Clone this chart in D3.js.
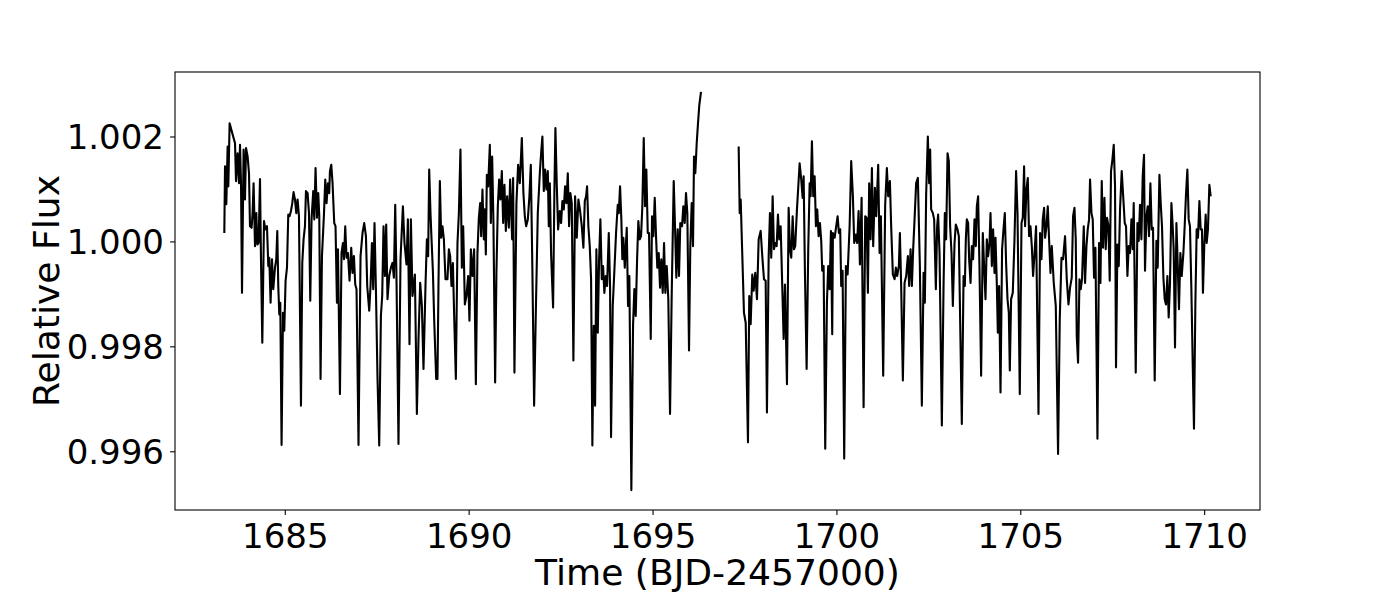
<!DOCTYPE html>
<html>
<head>
<meta charset="utf-8">
<script src="https://cdn.jsdelivr.net/npm/d3@7"></script>
<style>
  html, body { margin: 0; padding: 0; background: #fff; }
  svg { display: block; }
  text { font-family: "DejaVu Sans", sans-serif; fill: #000; }
</style>
</head>
<body>
<svg id="chart" width="1400" height="600"></svg>
<script>
// ---- Data: TESS light curve, two orbits ----
const time1 = [
1683.356,1683.375,1683.410,1683.446,1683.465,1683.500,1683.647,1683.674,1683.717,1683.755,
1683.783,1683.810,1683.837,1683.880,1683.918,1683.946,1683.989,1684.027,1684.054,1684.098,
1684.125,1684.152,1684.171,1684.190,1684.226,1684.253,1684.288,1684.326,1684.353,1684.389,
1684.435,1684.470,1684.516,1684.552,1684.579,1684.614,1684.652,1684.687,1684.734,1684.769,
1684.796,1684.823,1684.851,1684.878,1684.913,1684.951,1684.986,1685.022,1685.060,1685.095,
1685.130,1685.168,1685.204,1685.239,1685.277,1685.313,1685.348,1685.386,1685.440,1685.476,
1685.511,1685.549,1685.576,1685.620,1685.658,1685.693,1685.728,1685.774,1685.802,1685.837,
1685.875,1685.910,1685.938,1685.973,1686.011,1686.065,1686.101,1686.136,1686.174,1686.209,
1686.228,1686.264,1686.299,1686.345,1686.380,1686.418,1686.446,1686.500,1686.543,1686.582,
1686.609,1686.644,1686.679,1686.717,1686.761,1686.807,1686.842,1686.880,1686.916,1686.951,
1687.005,1687.060,1687.114,1687.160,1687.207,1687.242,1687.296,1687.332,1687.370,1687.405,
1687.440,1687.478,1687.522,1687.568,1687.614,1687.649,1687.685,1687.723,1687.758,1687.793,
1687.840,1687.886,1687.929,1687.967,1688.003,1688.038,1688.092,1688.147,1688.212,1688.255,
1688.310,1688.348,1688.391,1688.429,1688.473,1688.538,1688.592,1688.636,1688.682,1688.728,
1688.772,1688.826,1688.864,1688.899,1688.927,1688.962,1688.989,1689.027,1689.062,1689.117,
1689.152,1689.179,1689.217,1689.253,1689.288,1689.326,1689.370,1689.424,1689.462,1689.497,
1689.533,1689.571,1689.606,1689.652,1689.696,1689.734,1689.777,1689.815,1689.851,1689.897,
1689.940,1689.986,1690.022,1690.060,1690.103,1690.149,1690.196,1690.239,1690.277,1690.313,
1690.340,1690.375,1690.413,1690.440,1690.467,1690.495,1690.530,1690.576,1690.603,1690.639,
1690.674,1690.720,1690.755,1690.793,1690.829,1690.864,1690.902,1690.938,1690.973,1691.011,
1691.046,1691.092,1691.128,1691.182,1691.209,1691.245,1691.299,1691.345,1691.391,1691.446,
1691.489,1691.527,1691.563,1691.609,1691.652,1691.690,1691.734,1691.780,1691.826,1691.880,
1691.935,1691.970,1692.005,1692.043,1692.079,1692.114,1692.152,1692.179,1692.207,1692.242,
1692.296,1692.332,1692.359,1692.397,1692.432,1692.478,1692.514,1692.549,1692.587,1692.622,
1692.658,1692.696,1692.731,1692.766,1692.804,1692.848,1692.894,1692.940,1692.984,1693.030,
1693.076,1693.120,1693.158,1693.193,1693.220,1693.255,1693.293,1693.329,1693.364,1693.402,
1693.438,1693.473,1693.511,1693.546,1693.582,1693.620,1693.655,1693.690,1693.728,1693.764,
1693.810,1693.845,1693.872,1693.918,1693.962,1694.008,1694.054,1694.082,1694.117,1694.152,
1694.179,1694.207,1694.245,1694.299,1694.334,1694.370,1694.424,1694.470,1694.505,1694.543,
1694.579,1694.614,1694.652,1694.688,1694.723,1694.761,1694.796,1694.832,1694.870,1694.905,
1694.951,1694.986,1695.022,1695.060,1695.095,1695.130,1695.168,1695.204,1695.239,1695.277,
1695.313,1695.348,1695.386,1695.429,1695.476,1695.522,1695.576,1695.611,1695.647,1695.685,
1695.720,1695.755,1695.802,1695.837,1695.875,1695.910,1695.946,1695.992,1696.027,1696.065,
1696.101,1696.128,1696.163,1696.201,1696.236,1696.272,1696.318
];
const flux1 = [
1.00016,1.00143,1.00071,1.00181,1.00105,1.00225,1.00187,1.00115,1.00168,1.00111,
1.00184,1.00111,0.99902,1.00175,1.00080,1.00178,1.00162,1.00130,1.00029,1.00026,
1.00054,1.00111,1.00054,0.99991,1.00054,0.99994,0.99997,1.00119,0.99966,0.99807,
1.00039,1.00023,1.00029,0.99953,0.99969,0.99883,0.99966,0.99909,0.99950,0.99966,
1.00020,0.99915,0.99861,0.99883,0.99612,0.99864,0.99830,0.99925,0.99950,1.00051,
1.00048,1.00058,1.00073,1.00094,1.00080,1.00054,1.00080,1.00048,0.99687,0.99959,
1.00004,1.00029,1.00096,1.00092,1.00054,0.99887,1.00042,1.00096,1.00042,1.00140,
1.00045,1.00092,1.00048,0.99738,0.99972,1.00051,1.00118,1.00073,1.00111,1.00092,
1.00134,1.00146,1.00111,1.00035,1.00029,0.99883,0.99985,0.99709,0.99978,0.99997,
0.99966,1.00029,0.99969,0.99978,0.99925,0.99988,0.99940,0.99972,0.99918,0.99909,
0.99612,0.99972,1.00016,1.00035,1.00010,0.99915,0.99868,0.99915,0.99997,0.99909,
1.00035,0.99909,0.99738,0.99611,0.99858,0.99896,1.00029,0.99934,1.00032,0.99890,
0.99934,0.99950,0.99959,0.99931,1.00070,0.99928,0.99614,0.99966,1.00067,0.99997,
0.99956,1.00042,0.99804,1.00042,0.99896,0.99937,0.99671,0.99814,0.99921,0.99877,
0.99757,0.99915,1.00004,0.99972,1.00137,1.00054,1.00007,0.99944,0.99852,0.99738,
0.99738,0.99915,1.00115,1.00007,1.00029,1.00004,0.99928,0.99928,0.99985,0.99972,
0.99915,0.99959,0.99858,0.99738,0.99997,1.00054,1.00175,0.99950,1.00029,0.99880,
0.99896,0.99934,0.99849,0.99985,0.99934,0.99985,0.99728,0.99978,1.00045,1.00073,
1.00010,1.00099,1.00004,1.00061,0.99975,1.00127,1.00105,1.00184,1.00035,1.00162,
1.00035,0.99731,0.99940,1.00067,1.00118,1.00080,1.00134,1.00035,1.00108,1.00020,
1.00086,1.00026,1.00118,1.00004,1.00121,0.99750,1.00073,1.00146,1.00111,1.00197,
1.00092,1.00048,1.00029,1.00042,1.00086,1.00146,0.99940,0.99687,0.99864,1.00054,
1.00130,1.00168,1.00200,1.00096,1.00137,1.00099,1.00134,1.00029,1.00111,0.99975,
0.99874,1.00099,1.00216,1.00105,1.00023,1.00058,1.00035,1.00077,1.00061,1.00105,
1.00073,1.00130,1.00029,1.00092,1.00073,0.99773,1.00086,1.00007,1.00080,1.00058,
1.00029,0.99988,1.00077,1.00086,1.00105,1.00029,0.99991,0.99928,0.99611,0.99839,
0.99687,0.99985,0.99826,0.99963,1.00042,0.99928,0.99953,0.99902,0.99934,0.99915,
1.00016,0.99915,0.99627,0.99877,0.99944,1.00016,1.00070,1.00054,1.00105,1.00042,
0.99966,1.00007,0.99950,1.00026,0.99877,0.99934,0.99526,0.99839,0.99909,0.99858,
0.99963,1.00039,1.00004,1.00010,1.00067,1.00197,1.00067,1.00137,1.00016,1.00016,
0.99814,1.00048,1.00010,1.00083,1.00010,0.99950,0.99978,0.99912,0.99966,0.99902,
0.99997,0.99902,0.99953,0.99890,0.99671,0.99902,1.00115,1.00029,0.99931,1.00023,
0.99934,1.00035,1.00029,1.00067,1.00035,1.00092,1.00054,0.99792,0.99991,1.00073,
0.99991,1.00162,1.00130,1.00187,1.00225,1.00260,1.00285
];
const time2 = [
1697.342,1697.370,1697.397,1697.486,1697.533,1697.595,1697.630,1697.668,1697.712,1697.750,
1697.793,1697.840,1697.886,1697.940,1697.984,1698.030,1698.076,1698.111,1698.158,1698.193,
1698.228,1698.266,1698.302,1698.337,1698.375,1698.410,1698.446,1698.484,1698.527,1698.565,
1698.601,1698.655,1698.701,1698.736,1698.772,1698.810,1698.845,1698.880,1698.927,1699.000,
1699.043,1699.082,1699.109,1699.144,1699.190,1699.234,1699.272,1699.299,1699.334,1699.370,
1699.408,1699.443,1699.478,1699.516,1699.552,1699.587,1699.614,1699.652,1699.696,1699.742,
1699.777,1699.815,1699.851,1699.886,1699.905,1699.951,1699.995,1700.033,1700.068,1700.103,
1700.130,1700.168,1700.212,1700.258,1700.304,1700.359,1700.402,1700.448,1700.484,1700.530,
1700.565,1700.603,1700.639,1700.685,1700.739,1700.783,1700.821,1700.856,1700.891,1700.929,
1700.965,1701.000,1701.046,1701.082,1701.136,1701.174,1701.209,1701.272,1701.326,1701.372,
1701.408,1701.454,1701.489,1701.535,1701.582,1701.617,1701.652,1701.698,1701.726,1701.761,
1701.807,1701.853,1701.897,1701.943,1701.978,1702.016,1702.052,1702.087,1702.125,1702.168,
1702.215,1702.269,1702.323,1702.370,1702.405,1702.440,1702.486,1702.522,1702.549,1702.576,
1702.622,1702.658,1702.704,1702.739,1702.766,1702.804,1702.867,1702.913,1702.948,1702.984,
1703.022,1703.057,1703.092,1703.130,1703.166,1703.212,1703.247,1703.293,1703.329,1703.364,
1703.410,1703.457,1703.492,1703.519,1703.546,1703.582,1703.609,1703.647,1703.682,1703.717,
1703.755,1703.791,1703.818,1703.853,1703.891,1703.935,1703.981,1704.016,1704.054,1704.090,
1704.125,1704.163,1704.190,1704.226,1704.261,1704.299,1704.326,1704.361,1704.389,1704.424,
1704.462,1704.505,1704.543,1704.579,1704.614,1704.652,1704.688,1704.715,1704.750,1704.796,
1704.842,1704.886,1704.924,1704.986,1705.033,1705.068,1705.103,1705.130,1705.168,1705.204,
1705.239,1705.277,1705.313,1705.348,1705.386,1705.429,1705.495,1705.538,1705.576,1705.611,
1705.647,1705.674,1705.712,1705.747,1705.783,1705.821,1705.856,1705.910,1705.965,1706.027,
1706.073,1706.120,1706.163,1706.217,1706.264,1706.310,1706.353,1706.399,1706.435,1706.473,
1706.508,1706.535,1706.571,1706.609,1706.644,1706.679,1706.726,1706.761,1706.799,1706.834,
1706.870,1706.897,1706.935,1706.970,1707.005,1707.043,1707.098,1707.141,1707.179,1707.215,
1707.250,1707.288,1707.323,1707.359,1707.397,1707.432,1707.467,1707.505,1707.541,1707.576,
1707.603,1707.641,1707.677,1707.712,1707.758,1707.840,1707.875,1707.913,1707.948,1707.984,
1708.022,1708.057,1708.084,1708.139,1708.185,1708.220,1708.255,1708.293,1708.329,1708.364,
1708.391,1708.429,1708.465,1708.500,1708.538,1708.573,1708.609,1708.655,1708.701,1708.736,
1708.783,1708.818,1708.853,1708.891,1708.927,1708.962,1709.000,1709.035,1709.071,1709.109,
1709.144,1709.171,1709.207,1709.245,1709.280,1709.315,1709.353,1709.389,1709.435,1709.470,
1709.505,1709.543,1709.579,1709.614,1709.652,1709.688,1709.723,1709.761,1709.796,1709.832,
1709.870,1709.905,1709.940,1709.967,1710.005,1710.041,1710.068,1710.103,1710.141,1710.177
];
const flux2 = [
1.00181,1.00054,1.00080,0.99864,0.99845,0.99617,0.99896,0.99842,0.99937,0.99906,
0.99940,0.99890,1.00004,1.00020,0.99972,0.99928,0.99925,0.99674,0.99972,1.00054,
0.99969,1.00086,0.99985,0.99997,0.99991,1.00051,1.00004,1.00029,0.99915,0.99814,
0.99918,0.99728,1.00064,0.99985,0.99969,1.00048,0.99985,0.99991,1.00061,1.00149,
1.00118,1.00083,1.00124,0.99940,0.99757,0.99985,1.00111,1.00086,1.00191,1.00086,
1.00124,1.00029,1.00061,1.00010,1.00035,1.00001,0.99944,0.99953,0.99605,0.99883,
0.99953,0.99909,1.00020,0.99823,1.00016,1.00007,1.00029,1.00048,1.00016,1.00023,
0.99915,0.99944,0.99586,0.99953,0.99937,1.00029,1.00153,1.00086,0.99997,1.00013,
0.99997,1.00058,0.99956,1.00083,0.99684,1.00048,1.00045,0.99902,1.00111,1.00004,
1.00140,0.99991,1.00102,1.00048,1.00146,0.99978,1.00048,0.99744,1.00070,1.00140,
1.00086,1.00115,1.00029,0.99937,0.99928,0.99950,0.99934,0.99953,1.00016,0.99915,
0.99735,0.99921,0.99934,0.99972,0.99915,0.99985,0.99915,0.99985,1.00042,1.00111,
1.00121,0.99953,0.99687,0.99940,0.99883,1.00089,1.00200,1.00111,1.00175,1.00061,
1.00054,1.00042,0.99909,1.00029,1.00051,0.99978,0.99649,0.99915,1.00054,1.00004,
1.00168,1.00153,1.00029,0.99978,0.99877,0.99997,1.00032,1.00023,1.00010,0.99852,
0.99652,0.99934,0.99915,1.00004,1.00042,1.00035,0.99966,0.99921,0.99991,0.99966,
1.00042,0.99991,1.00067,1.00086,0.99947,0.99744,1.00016,0.99953,0.99890,1.00004,
0.99972,0.99997,1.00054,0.99953,1.00023,0.99940,1.00007,0.99921,0.99826,0.99915,
0.99712,0.99985,1.00023,1.00054,0.99959,0.99890,0.99864,0.99754,0.99890,0.99902,
1.00004,1.00134,1.00054,0.99709,1.00035,1.00045,1.00143,1.00029,1.00099,1.00121,
1.00010,1.00029,0.99991,0.99934,0.99975,1.00029,0.99671,1.00016,0.99966,1.00042,
1.00064,1.00007,1.00029,1.00067,1.00004,0.99940,0.99991,0.99921,0.99877,0.99595,
0.99852,0.99969,0.99966,1.00010,0.99928,0.99880,0.99912,0.99931,1.00048,1.00064,
1.00004,0.99820,0.99769,0.99928,0.99909,0.99928,1.00029,0.99921,0.99991,1.00023,
1.00042,1.00118,1.00054,1.00042,0.99931,0.99988,0.99624,0.99997,0.99921,1.00115,
0.99988,1.00083,0.99985,1.00045,1.00029,0.99925,1.00134,1.00156,1.00184,1.00105,
0.99760,0.99994,0.99953,1.00061,1.00134,1.00035,1.00029,0.99934,0.99991,0.99978,
1.00042,0.99985,1.00073,0.99750,1.00035,1.00001,1.00070,1.00004,1.00124,1.00165,
0.99944,1.00048,1.00067,1.00010,1.00111,1.00023,1.00026,0.99735,1.00001,0.99950,
1.00127,1.00073,1.00029,0.99931,0.99890,0.99880,0.99934,0.99855,0.99921,1.00073,
1.00029,0.99985,0.99798,1.00035,0.99959,0.99871,0.99978,0.99934,0.99978,1.00029,
1.00089,1.00137,1.00042,1.00029,0.99909,0.99769,0.99643,0.99883,1.00023,1.00007,
1.00077,1.00023,1.00023,0.99902,0.99997,1.00051,0.99997,1.00023,1.00108,1.00086
];
const xTicks = [1685, 1690, 1695, 1700, 1705, 1710];
const yTicks = [0.996, 0.998, 1.000, 1.002];
const yTickLabels = ["0.996", "0.998", "1.000", "1.002"];
const xLabel = "Time (BJD-2457000)";
const yLabel = "Relative Flux";

// ---- Layout ----
const W = 1400, H = 600;
const M = { left: 175, right: 1260, top: 72, bottom: 510 };
const FS_TICK = 34;
const FS_LABEL = 36.1;

const seg1 = time1.map((t, i) => ({ t, f: flux1[i] }));
const seg2 = time2.map((t, i) => ({ t, f: flux2[i] }));
const all = seg1.concat(seg2);

function padded(ext) {
  const r = ext[1] - ext[0];
  return [ext[0] - 0.05 * r, ext[1] + 0.05 * r];
}

const x = d3.scaleLinear().domain(padded(d3.extent(all, d => d.t))).range([M.left, M.right]);
const y = d3.scaleLinear().domain(padded(d3.extent(all, d => d.f))).range([M.bottom, M.top]);

const svg = d3.select("#chart");
svg.append("rect").attr("x", 0).attr("y", 0).attr("width", W).attr("height", H).attr("fill", "#fff");

svg.append("clipPath").attr("id", "clip")
  .append("rect").attr("x", M.left).attr("y", M.top)
  .attr("width", M.right - M.left).attr("height", M.bottom - M.top);

const line = d3.line().x(d => x(d.t)).y(d => y(d.f));
const g = svg.append("g").attr("clip-path", "url(#clip)");
[seg1, seg2].forEach(seg => {
  g.append("path").datum(seg)
    .attr("d", line)
    .attr("fill", "none")
    .attr("stroke", "#000")
    .attr("stroke-width", 2.1)
    .attr("stroke-linejoin", "round");
});

// axes
const xAxis = d3.axisBottom(x).tickValues(xTicks).tickFormat(d3.format("d")).tickSize(4.9).tickSizeOuter(0);
const gx = svg.append("g").attr("transform", `translate(0,${M.bottom})`).call(xAxis);
gx.select(".domain").remove();
gx.selectAll(".tick line").attr("stroke", "#000").attr("stroke-width", 1.1);
gx.selectAll(".tick text").attr("y", 38).attr("dy", null)
  .style("font-size", FS_TICK + "px").style("font-family", "'DejaVu Sans', sans-serif").attr("fill", "#000");

const yAxis = d3.axisLeft(y).tickValues(yTicks).tickFormat((d, i) => yTickLabels[i]).tickSize(4.9).tickSizeOuter(0);
const gy = svg.append("g").attr("transform", `translate(${M.left},0)`).call(yAxis);
gy.select(".domain").remove();
gy.selectAll(".tick line").attr("stroke", "#000").attr("stroke-width", 1.1);
gy.selectAll(".tick text").attr("x", -11).attr("dy", "0.36em")
  .style("font-size", FS_TICK + "px").style("font-family", "'DejaVu Sans', sans-serif").attr("fill", "#000");

// frame
svg.append("rect")
  .attr("x", M.left).attr("y", M.top)
  .attr("width", M.right - M.left).attr("height", M.bottom - M.top)
  .attr("fill", "none").attr("stroke", "#000").attr("stroke-width", 1.1);

// axis labels
svg.append("text")
  .attr("x", (M.left + M.right) / 2).attr("y", 585)
  .attr("text-anchor", "middle")
  .style("font-size", FS_LABEL + "px")
  .text(xLabel);

svg.append("text")
  .attr("transform", `translate(59,${(M.top + M.bottom) / 2}) rotate(-90)`)
  .attr("text-anchor", "middle")
  .style("font-size", FS_LABEL + "px")
  .text(yLabel);
</script>
</body>
</html>
